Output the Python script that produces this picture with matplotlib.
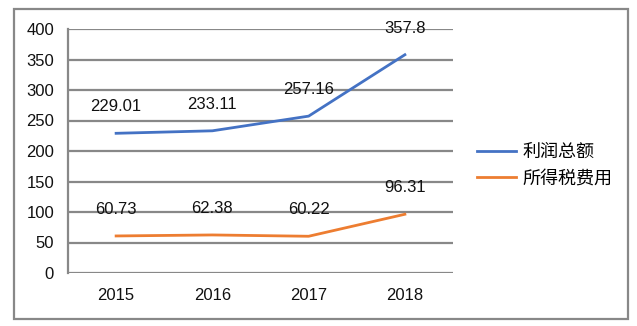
import matplotlib.pyplot as plt
from matplotlib.patches import Rectangle

years = ["2015", "2016", "2017", "2018"]
profit = [229.01, 233.11, 257.16, 357.8]
tax = [60.73, 62.38, 60.22, 96.31]
series_names = ["利润总额", "所得税费用"]

plt.rcParams['font.family'] = ['Liberation Sans', 'Noto Sans CJK SC', 'DejaVu Sans']
plt.rcParams['font.size'] = 12

fig = plt.figure(figsize=(6.37, 3.26), dpi=100)
# outer chart border
fig.patches.append(Rectangle((14 / 637, 1 - 319 / 326), 614 / 637, 310 / 326,
                             transform=fig.transFigure, fill=False,
                             edgecolor='#888888', linewidth=1.6))

ax = fig.add_axes([68 / 637, 1 - 273 / 326, 385 / 637, 244 / 326])
x = list(range(len(years)))
ax.plot(x, profit, color='#4472C4', linewidth=2, label=series_names[0], zorder=3)
ax.plot(x, tax, color='#ED7D31', linewidth=2, label=series_names[1], zorder=3)

for vals in (profit, tax):
    for i, v in enumerate(vals):
        ax.annotate(f"{v:g}", (i, v), xytext=(0, 19), textcoords='offset points',
                    ha='center', va='center', fontsize=12, color='#111111', zorder=4)

ax.set_xlim(-0.5, 3.5)
ax.set_ylim(0, 400)
ax.set_yticks(range(0, 401, 50))
ax.set_xticks(x)
ax.set_xticklabels(years)
ax.grid(axis='y', color='#888888', linewidth=1.6)
ax.set_axisbelow(True)
for s in ['top', 'right', 'bottom']:
    ax.spines[s].set_visible(False)
ax.spines['left'].set_color('#888888')
ax.spines['left'].set_linewidth(1.6)
ax.tick_params(axis='both', length=0, colors='#111111', labelsize=12)
ax.tick_params(axis='y', pad=10)
ax.tick_params(axis='x', pad=11)

ax.legend(loc='center left', bbox_to_anchor=(1.021, 0.44), frameon=False,
          handlelength=2.15, handletextpad=0.33, labelspacing=0.5, fontsize=13)

fig.savefig('out.png', dpi=100)
